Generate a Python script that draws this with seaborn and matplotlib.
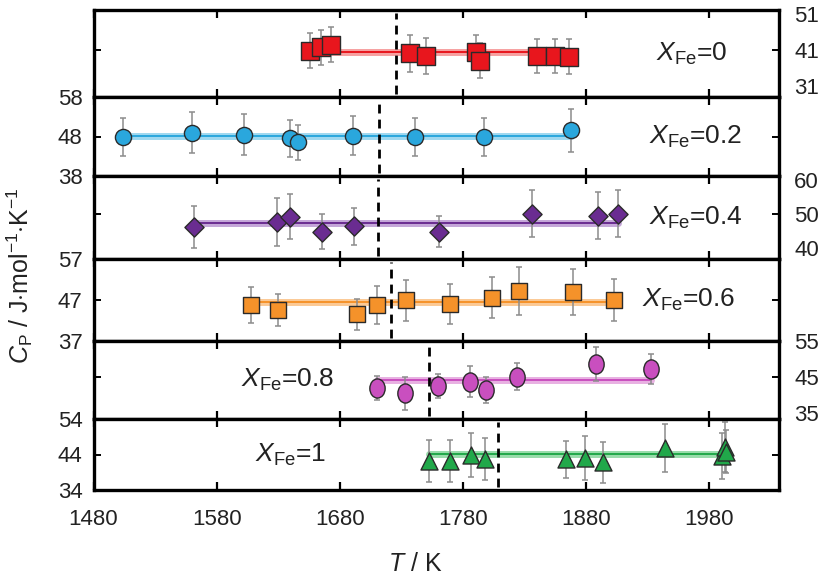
import numpy as np
import pandas as pd
import matplotlib
matplotlib.use("Agg")
import matplotlib.pyplot as plt
import seaborn as sns
from matplotlib.path import Path

sns.set_theme(style="ticks")
plt.rcParams["font.family"] = ["Liberation Sans", "DejaVu Sans"]
plt.rcParams["mathtext.fontset"] = "custom"
plt.rcParams["mathtext.rm"] = "Liberation Sans"
plt.rcParams["mathtext.it"] = "Liberation Sans:italic"
plt.rcParams["mathtext.bf"] = "Liberation Sans:bold"

# ---------------- data ----------------
compositions = ["0", "0.2", "0.4", "0.6", "0.8", "1"]

T_x00 = [1656, 1665, 1673, 1737, 1750, 1791, 1794, 1840, 1855, 1866]
cp_x00 = [40.8, 41.7, 42.4, 40.1, 39.4, 40.5, 38.1, 39.4, 39.4, 39.2]
err_x00 = [4.8, 4.8, 4.8, 5.0, 5.0, 4.6, 4.8, 4.7, 4.7, 4.7]

T_x02 = [1504, 1560, 1602, 1640, 1646, 1691, 1741, 1797, 1868]
cp_x02 = [47.9, 49.0, 48.5, 47.5, 46.5, 48.2, 47.9, 47.9, 49.6]
err_x02 = [4.8, 5.1, 5.2, 4.8, 4.5, 5.0, 4.8, 4.9, 5.4]

T_x04 = [1562, 1629, 1640, 1666, 1692, 1761, 1836, 1890, 1906]
cp_x04 = [46.3, 47.6, 49.3, 44.9, 46.5, 44.9, 50.2, 49.6, 50.2]
err_x04 = [6.2, 7.1, 6.7, 5.2, 5.5, 4.5, 7.0, 6.9, 7.0]

T_x06 = [1608, 1630, 1694, 1710, 1734, 1770, 1804, 1826, 1870, 1903]
cp_x06 = [45.8, 44.6, 43.5, 45.8, 47.0, 46.0, 47.6, 49.2, 49.0, 47.0]
err_x06 = [4.4, 3.9, 3.8, 4.7, 5.0, 4.8, 5.1, 5.8, 5.6, 5.1]

T_x08 = [1710, 1733, 1760, 1786, 1799, 1824, 1888, 1933]
cp_x08 = [42.0, 40.5, 42.5, 43.7, 41.4, 45.1, 48.6, 47.2]
err_x08 = [3.3, 4.6, 3.4, 4.3, 3.7, 3.7, 4.6, 4.3]

T_x10 = [1753, 1770, 1787, 1798, 1864, 1879, 1894, 1944, 1991, 1993, 1994]
cp_x10 = [42.2, 42.2, 43.9, 42.7, 42.7, 43.0, 41.8, 45.9, 43.5, 46.2, 44.8]
err_x10 = [5.9, 5.9, 6.2, 6.0, 5.2, 6.1, 5.8, 6.8, 6.5, 7.0, 6.0]

fit_levels = [40.4, 48.2, 47.5, 46.4, 44.1, 44.2]
transition_T = [1726, 1712, 1711, 1722, 1753, 1809]

y_tick_values = [[31, 41, 51], [38, 48, 58], [40, 50, 60],
                 [37, 47, 57], [35, 45, 55], [34, 44, 54]]
x_ticks = [1480, 1580, 1680, 1780, 1880, 1980]

series_T = [T_x00, T_x02, T_x04, T_x06, T_x08, T_x10]
series_cp = [cp_x00, cp_x02, cp_x04, cp_x06, cp_x08, cp_x10]
series_err = [err_x00, err_x02, err_x04, err_x06, err_x08, err_x10]

# ---------------- styles ----------------
colors = ["#e8161d", "#2aa7dd", "#6a2c91", "#f5922a", "#c94fbf", "#21a84a"]
halo = ["#f6a0a0", "#9fd8f0", "#c4a6d8", "#fbc995", "#e8b0e2", "#98dcaa"]
ell = Path.unit_circle()
ell = Path(ell.vertices * np.array([0.8, 1.0]), ell.codes)
markers = ["s", "o", "D", "s", ell, "^"]
sizes = [150, 135, 95, 140, 190, 150]
ylims = [(28.1, 52.0), (38, 58), (36.8, 61.3), (37, 57), (33.3, 55), (34, 54)]
label_right = [True, False, True, False, True, False]
text_x = [0.82, 0.81, 0.81, 0.80, 0.215, 0.235]

W, H = 822.0, 579.0
edges = [10, 97, 176, 259, 341, 419, 490]
left_px, right_px = 93.5, 779.0

fig = plt.figure(figsize=(W / 100, H / 100), dpi=100)

for i in range(6):
    t, b = edges[i], edges[i + 1]
    ax = fig.add_axes([left_px / W, 1 - b / H, (right_px - left_px) / W, (b - t) / H])
    df = pd.DataFrame({"T": series_T[i], "Cp": series_cp[i], "err": series_err[i]})
    fit_df = pd.DataFrame({"T": [min(series_T[i]), max(series_T[i])],
                           "Cp": [fit_levels[i], fit_levels[i]]})

    sns.lineplot(data=fit_df, x="T", y="Cp", color=halo[i], lw=5, ax=ax, zorder=1)
    sns.lineplot(data=fit_df, x="T", y="Cp", color=colors[i], lw=1.4, ax=ax, zorder=1.5)
    ax.errorbar(df["T"], df["Cp"], yerr=df["err"], fmt="none", ecolor="#8c8c8c",
                elinewidth=1.1, capsize=2.5, capthick=1.1, zorder=2)
    ax.axvline(transition_T[i], ymin=0.04, ymax=0.96, color="black",
               ls=(0, (3.2, 2.2)), lw=2.0, zorder=3)
    sns.scatterplot(data=df, x="T", y="Cp", marker=markers[i], s=sizes[i],
                    color=colors[i], edgecolor="#2a2a2a", linewidth=1.0,
                    ax=ax, zorder=4, legend=False)

    ax.set_xlim(1480, 2037)
    ax.set_ylim(*ylims[i])
    ax.set_xticks(x_ticks)
    ax.set_yticks(y_tick_values[i])
    ax.set_yticklabels([str(v) for v in y_tick_values[i]])
    ax.set_xlabel("")
    ax.set_ylabel("")
    for sp in ax.spines.values():
        sp.set_linewidth(2.4)
        sp.set_color("black")
    ax.tick_params(axis="x", direction="in", length=6, width=1.6, top=True,
                   bottom=True, labelbottom=(i == 5), labelsize=16, pad=14,
                   colors="black", labelcolor="#222222")
    ax.tick_params(axis="y", direction="in", length=5, width=1.4, left=True,
                   right=True, labelleft=not label_right[i],
                   labelright=label_right[i], labelsize=16,
                   pad=(11 if label_right[i] else 8),
                   colors="black", labelcolor="#222222")
    yt = ax.yaxis.get_major_ticks()
    for k in (0, 2):
        yt[k].tick1line.set_visible(False)
        yt[k].tick2line.set_visible(False)
    ax.text(text_x[i], 0.5, r"$X_{\mathrm{Fe}}$=" + compositions[i],
            transform=ax.transAxes, fontsize=19, va="center", ha="left",
            color="#222222")

fig.text(20 / W, 1 - 276 / H, r"$C_{\mathrm{P}}$ / J$\cdot$mol$^{-1}$$\cdot$K$^{-1}$",
         rotation=90, ha="center", va="center", fontsize=18, color="#222222")
fig.text(415 / W, 1 - 564 / H, r"$T$ / K", ha="center", va="center",
         fontsize=18, color="#222222")

fig.savefig("out.png", dpi=100)
